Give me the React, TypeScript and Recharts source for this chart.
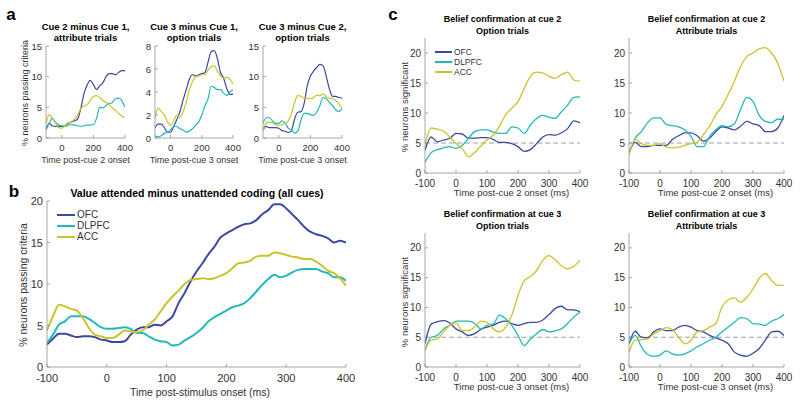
import React from 'react';
import { LineChart, Line, XAxis, YAxis, ReferenceLine } from 'recharts';

const FONT = '"Liberation Sans", Arial, Helvetica, sans-serif';
const C_OFC = '#3b4aa0';
const C_DL = '#22b9b8';
const C_ACC = '#c9c42c';
const AXIS = '#8f8f8f';
const TICKTXT = '#333333';

// time samples
const t20 = [-100, -80, -60, -40, -20, 0, 20, 40, 60, 80, 100, 120, 140, 160, 180, 200, 220, 240, 260, 280, 300, 320, 340, 360, 380, 400];
const t10 = [-100, -90, -80, -70, -60, -50, -40, -30, -20, -10, 0, 10, 20, 30, 40, 50, 60, 70, 80, 90, 100, 110, 120, 130, 140, 150, 160, 170, 180, 190, 200, 210, 220, 230, 240, 250, 260, 270, 280, 290, 300, 310, 320, 330, 340, 350, 360, 370, 380, 390, 400];

// panel a1: Cue 2 minus Cue 1, attribute trials
const a1Ofc = [1.4, 2.4, 2.0, 1.9, 1.9, 1.9, 2.0, 2.4, 2.6, 2.8, 3.1, 4.8, 7.2, 8.6, 9.4, 8.7, 7.9, 8.5, 9.0, 10.0, 10.5, 10.5, 10.3, 10.7, 11.0, 11.0];
const a1Dl = [1.3, 2.4, 3.2, 2.6, 2.1, 2.0, 1.9, 2.1, 2.2, 2.1, 2.0, 1.9, 2.0, 2.1, 2.1, 2.2, 3.2, 5.0, 4.9, 5.3, 5.6, 5.8, 6.4, 6.5, 6.1, 5.0];
const a1Acc = [2.4, 3.8, 3.2, 2.4, 1.7, 1.6, 2.0, 2.5, 2.6, 3.1, 3.7, 4.8, 5.2, 5.4, 6.1, 6.8, 6.9, 6.6, 6.1, 5.8, 5.4, 4.9, 4.5, 4.0, 3.6, 3.3];
// panel a2: Cue 3 minus Cue 1, option trials
const a2Ofc = [0.9, 1.2, 1.2, 0.9, 0.5, 0.5, 1.0, 1.6, 2.3, 3.3, 4.2, 5.1, 5.5, 5.4, 5.5, 5.6, 5.7, 6.6, 7.5, 7.6, 6.9, 5.7, 5.2, 4.3, 3.8, 3.8];
const a2Dl = [0.2, 0.1, 0.2, 0.4, 0.5, 0.7, 1.0, 1.0, 0.8, 0.7, 0.5, 0.6, 0.8, 1.1, 1.4, 2.0, 2.8, 3.4, 4.5, 4.4, 4.2, 4.2, 3.9, 3.7, 4.0, 4.2];
const a2Acc = [1.7, 2.6, 2.3, 2.0, 1.4, 1.1, 1.5, 2.0, 1.8, 2.3, 3.1, 4.2, 4.9, 5.3, 5.4, 5.5, 5.5, 5.9, 6.2, 6.3, 5.8, 5.4, 5.2, 5.3, 5.1, 4.7];
// panel a3: Cue 3 minus Cue 2, option trials
const a3Ofc = [1.3, 1.9, 1.7, 1.7, 1.7, 1.6, 1.2, 1.1, 0.9, 1.2, 3.1, 4.2, 4.3, 5.6, 8.5, 10.1, 10.9, 11.5, 12.0, 11.8, 10.1, 8.0, 6.8, 6.8, 6.6, 6.5];
const a3Dl = [2.4, 3.3, 3.3, 2.8, 2.4, 2.4, 2.8, 2.4, 1.6, 1.3, 0.8, 1.1, 2.9, 4.0, 4.0, 3.8, 3.7, 4.2, 5.3, 6.6, 6.4, 5.8, 5.3, 4.6, 4.3, 4.8];
const a3Acc = [1.3, 2.4, 2.6, 2.5, 2.1, 2.1, 2.2, 2.4, 2.8, 4.0, 5.8, 6.9, 6.8, 6.5, 6.5, 6.4, 6.6, 7.0, 6.9, 7.2, 6.7, 6.5, 6.4, 6.1, 5.6, 4.8];

// panel b: value attended minus unattended coding (all cues)
const bOfc = [2.7, 3.4, 4.0, 4.0, 3.8, 3.6, 3.7, 3.7, 3.6, 3.3, 3.2,
  3.0, 3.0, 3.1, 3.9, 4.5, 4.8, 4.8, 5.1, 5.0, 5.5,
  6.1, 7.7, 8.9, 10.3, 11.5, 12.5, 13.6, 14.5, 15.6, 16.1,
  16.5, 16.9, 17.2, 17.3, 17.7, 18.4, 18.9, 19.6, 19.6, 19.1,
  18.4, 17.7, 16.9, 16.3, 16.0, 15.8, 15.5, 15.0, 15.2, 15.0];
const bDl = [2.9, 3.9, 5.1, 5.5, 6.1, 6.1, 6.1, 5.8, 5.3, 4.8, 4.6,
  4.6, 4.7, 4.8, 4.6, 4.1, 4.1, 3.7, 3.3, 3.1, 3.0,
  2.6, 2.7, 3.2, 3.6, 4.1, 4.7, 5.5, 6.0, 6.4, 6.8,
  7.2, 7.4, 7.7, 8.3, 9.1, 9.9, 10.6, 11.1, 10.8, 11.0,
  11.4, 11.7, 11.8, 11.8, 11.8, 11.5, 11.3, 10.8, 10.8, 10.4];
const bAcc = [4.4, 6.1, 7.5, 7.3, 7.0, 6.8, 5.9, 4.7, 3.9, 3.7, 3.5,
  3.5, 3.9, 4.4, 4.3, 4.2, 4.4, 5.1, 5.7, 6.7, 7.7,
  8.5, 9.2, 10.0, 10.5, 10.6, 10.7, 10.6, 10.7, 11.0, 11.3,
  11.9, 12.5, 12.6, 12.8, 13.3, 13.4, 13.4, 13.8, 13.7, 13.5,
  13.3, 13.2, 13.0, 13.0, 12.7, 12.2, 11.6, 11.3, 10.7, 9.8];

// panel c1: belief confirmation at cue 2, option trials
const c1Ofc = [3.8, 6.0, 5.2, 5.5, 5.8, 6.6, 6.5, 5.8, 5.8, 5.9, 5.9, 5.6, 5.1, 5.1, 4.9, 4.4, 3.6, 3.9, 4.9, 6.0, 6.4, 6.3, 6.7, 7.4, 8.7, 8.4];
const c1Dl = [1.8, 3.4, 3.9, 4.2, 4.4, 4.1, 4.6, 5.8, 6.9, 7.2, 7.2, 6.8, 6.6, 6.6, 7.7, 7.5, 6.6, 8.0, 9.1, 9.6, 9.3, 9.1, 10.2, 11.3, 12.6, 12.7];
const c1Acc = [4.8, 7.5, 7.3, 7.0, 6.0, 4.9, 4.1, 2.7, 3.4, 4.5, 5.5, 6.3, 7.8, 9.7, 10.8, 11.9, 14.1, 16.1, 16.8, 16.7, 16.1, 15.8, 16.4, 16.8, 15.5, 15.3];
// panel c2: belief confirmation at cue 2, attribute trials
const c2Ofc = [3.4, 5.1, 4.4, 4.4, 4.6, 4.6, 4.6, 5.6, 6.2, 6.7, 6.7, 6.2, 5.3, 5.8, 6.9, 7.7, 7.5, 7.2, 7.8, 8.6, 8.2, 7.9, 6.9, 6.9, 7.5, 9.6];
const c2Dl = [3.2, 5.8, 6.9, 8.4, 9.2, 9.2, 8.1, 7.9, 7.7, 7.2, 6.1, 4.4, 4.4, 6.1, 7.2, 7.9, 7.7, 8.2, 10.6, 12.6, 11.9, 9.6, 8.6, 8.4, 9.0, 8.9];
const c2Acc = [3.1, 5.6, 4.9, 4.6, 4.6, 4.9, 4.3, 4.2, 4.3, 4.6, 4.9, 5.1, 6.4, 7.8, 9.7, 11.1, 13.1, 15.3, 17.8, 19.4, 20.0, 20.7, 20.9, 20.0, 18.3, 15.3];
// panel c3: belief confirmation at cue 3, option trials
const c3Ofc = [3.9, 7.2, 7.6, 7.8, 7.4, 6.4, 5.9, 5.3, 5.6, 6.3, 6.7, 7.0, 7.5, 7.7, 7.3, 7.0, 7.3, 7.5, 7.5, 7.9, 8.8, 9.8, 10.2, 9.6, 9.6, 9.3];
const c3Dl = [2.8, 5.0, 5.3, 6.4, 7.0, 7.7, 7.7, 7.7, 7.3, 6.4, 7.0, 7.2, 8.7, 8.1, 7.0, 5.3, 3.6, 4.7, 5.6, 6.3, 5.9, 6.1, 6.4, 7.3, 8.4, 9.2];
const c3Acc = [2.8, 4.5, 4.7, 5.9, 7.0, 7.4, 6.1, 6.1, 6.7, 7.7, 7.5, 6.4, 5.9, 6.7, 8.7, 12.0, 14.5, 15.2, 16.2, 17.9, 18.7, 18.0, 17.0, 16.5, 16.9, 17.9];
// panel c4: belief confirmation at cue 3, attribute trials
const c4Ofc = [3.9, 6.0, 5.0, 4.9, 5.9, 6.4, 6.1, 6.1, 6.7, 7.0, 6.7, 6.1, 5.9, 5.3, 4.9, 4.5, 3.9, 2.5, 2.0, 1.8, 2.3, 3.1, 4.5, 5.9, 6.0, 5.3];
const c4Dl = [3.9, 5.3, 3.4, 2.1, 1.8, 2.0, 2.7, 2.2, 2.0, 2.2, 2.7, 3.4, 3.9, 4.5, 5.0, 5.9, 6.7, 7.5, 8.3, 8.1, 7.3, 7.2, 7.0, 7.7, 8.1, 8.8];
const c4Acc = [2.5, 4.5, 4.6, 4.7, 5.6, 6.1, 6.6, 6.3, 5.0, 3.9, 4.5, 5.9, 6.1, 6.7, 7.3, 10.1, 11.3, 11.6, 10.9, 11.7, 13.1, 14.9, 15.7, 14.5, 13.7, 13.7];

const aXTicks = [0, 200, 400];
const bcXTicks = [-100, 0, 100, 200, 300, 400];
const y15Ticks = [0, 5, 10, 15];
const y8Ticks = [0, 2, 4, 6, 8];
const y20Ticks = [0, 5, 10, 15, 20];
const seriesNames = ['OFC', 'DLPFC', 'ACC'];

function build(times: number[], ofc: number[], dl: number[], acc: number[]) {
  return times.map((t, i) => ({ t, OFC: ofc[i], DLPFC: dl[i], ACC: acc[i] }));
}

type Rect = { x: number; y: number; w: number; h: number };

function Plot(props: {
  rect: Rect; data: any[]; yDomain: [number, number]; yTicks: number[]; xTicks: number[];
  fs: number; sw: number; xOff: number; ref?: boolean;
}) {
  const { rect, data, yDomain, yTicks, xTicks, fs, sw, xOff, ref } = props;
  const YW = 30, MT = 8, MR = 14, XH = 24;
  const W = YW + rect.w + MR;
  const H = MT + rect.h + XH;
  const axisY = MT + rect.h;
  const axisX = YW;
  const xTick = (p: any) => (
    <g>
      <line x1={p.x} x2={p.x} y1={axisY} y2={axisY - 3} stroke={AXIS} strokeWidth={0.8} />
      <text x={p.x} y={axisY + xOff} textAnchor="middle" dominantBaseline="central" fontSize={fs} fontFamily={FONT} fill={TICKTXT}>{p.payload.value}</text>
    </g>
  );
  const yTick = (p: any) => (
    <g>
      <line x1={axisX} x2={axisX + 3} y1={p.y} y2={p.y} stroke={AXIS} strokeWidth={0.8} />
      <text x={axisX - 4} y={p.y} textAnchor="end" dominantBaseline="central" fontSize={fs} fontFamily={FONT} fill={TICKTXT}>{p.payload.value}</text>
    </g>
  );
  return (
    <div style={{ position: 'absolute', left: rect.x - YW, top: rect.y - MT }}>
      <LineChart width={W} height={H} data={data} margin={{ top: MT, right: MR, bottom: 0, left: 0 }}>
        <XAxis dataKey="t" type="number" domain={[-100, 400]} ticks={xTicks} tick={xTick} tickLine={false}
          axisLine={{ stroke: AXIS, strokeWidth: 0.8 }} height={XH} interval={0} allowDataOverflow />
        <YAxis type="number" domain={yDomain} ticks={yTicks} tick={yTick} tickLine={false}
          axisLine={{ stroke: AXIS, strokeWidth: 0.8 }} width={YW} interval={0} allowDataOverflow />
        {ref ? <ReferenceLine y={5} stroke="#a0a0a0" strokeWidth={1} strokeDasharray="5 3" /> : null}
        <Line dataKey="OFC" stroke={C_OFC} strokeWidth={sw} dot={false} type="monotone" isAnimationActive={false} />
        <Line dataKey="DLPFC" stroke={C_DL} strokeWidth={sw} dot={false} type="monotone" isAnimationActive={false} />
        <Line dataKey="ACC" stroke={C_ACC} strokeWidth={sw} dot={false} type="monotone" isAnimationActive={false} />
      </LineChart>
    </div>
  );
}

function T(props: { x: number; y: number; s: number; bold?: boolean; rot?: boolean; start?: boolean; color?: string; children: any }) {
  const { x, y, s, bold, rot, start, color, children } = props;
  return (
    <div style={{
      position: 'absolute', left: x, top: y,
      transform: `translate(${start ? '0' : '-50%'},-50%)${rot ? ' rotate(-90deg)' : ''}`,
      fontFamily: FONT, fontSize: s, fontWeight: bold ? 700 : 400, color: color || '#222',
      whiteSpace: 'nowrap', lineHeight: 1,
    }}>{children}</div>
  );
}

function Legend(props: { x: number; y: number; len: number; gap: number; fs: number; sw: number }) {
  const { x, y, len, gap, fs, sw } = props;
  const cols = [C_OFC, C_DL, C_ACC];
  return (
    <>
      {seriesNames.map((n, i) => (
        <React.Fragment key={n}>
          <div style={{ position: 'absolute', left: x, top: y + i * gap - sw / 2, width: len, height: sw, background: cols[i] }} />
          <T x={x + len + 2} y={y + i * gap} s={fs} start color="#333">{n}</T>
        </React.Fragment>
      ))}
    </>
  );
}

const A1: Rect = { x: 46, y: 46, w: 79, h: 92 };
const A2: Rect = { x: 155, y: 46, w: 78, h: 92 };
const A3: Rect = { x: 263, y: 46, w: 79, h: 92 };
const B: Rect = { x: 47, y: 201, w: 299, h: 166 };
const C1: Rect = { x: 425, y: 38, w: 155, h: 135 };
const C2: Rect = { x: 629, y: 38, w: 155, h: 135 };
const C3: Rect = { x: 425, y: 233, w: 155, h: 134 };
const C4: Rect = { x: 629, y: 233, w: 155, h: 134 };

export default function App() {
  const cx = (r: Rect) => r.x + r.w / 2;
  return (
    <div style={{ position: 'absolute', left: 0, top: 0, width: 800, height: 407, background: '#fff', overflow: 'hidden' }}>
      {/* panel a */}
      <T x={11} y={14} s={17} bold color="#000">a</T>
      <Plot rect={A1} data={build(t20, a1Ofc, a1Dl, a1Acc)} yDomain={[0, 15]} yTicks={y15Ticks} xTicks={aXTicks} fs={9.5} sw={1.2} xOff={9} />
      <Plot rect={A2} data={build(t20, a2Ofc, a2Dl, a2Acc)} yDomain={[0, 8]} yTicks={y8Ticks} xTicks={aXTicks} fs={9.5} sw={1.2} xOff={9} />
      <Plot rect={A3} data={build(t20, a3Ofc, a3Dl, a3Acc)} yDomain={[0, 15]} yTicks={y15Ticks} xTicks={aXTicks} fs={9.5} sw={1.2} xOff={9} />
      <T x={cx(A1)} y={27} s={9.5} bold color="#000">Cue 2 minus Cue 1,</T>
      <T x={cx(A1)} y={38} s={9.5} bold color="#000">attribute trials</T>
      <T x={cx(A2)} y={27} s={9.5} bold color="#000">Cue 3 minus Cue 1,</T>
      <T x={cx(A2)} y={38} s={9.5} bold color="#000">option trials</T>
      <T x={cx(A3)} y={27} s={9.5} bold color="#000">Cue 3 minus Cue 2,</T>
      <T x={cx(A3)} y={38} s={9.5} bold color="#000">option trials</T>
      <T x={cx(A1)} y={160} s={9} color="#333">Time post-cue 2 onset</T>
      <T x={cx(A2)} y={160} s={9} color="#333">Time post-cue 3 onset</T>
      <T x={cx(A3)} y={160} s={9} color="#333">Time post-cue 3 onset</T>
      <T x={25} y={93} s={9} rot color="#333">% neurons passing criteria</T>

      {/* panel b */}
      <T x={14} y={191} s={17} bold color="#000">b</T>
      <Plot rect={B} data={build(t10, bOfc, bDl, bAcc)} yDomain={[0, 20]} yTicks={y20Ticks} xTicks={bcXTicks} fs={11} sw={2} xOff={11} />
      <T x={197} y={193} s={10.5} bold color="#000">Value attended minus unattended coding (all cues)</T>
      <T x={200} y={392} s={10.5} color="#333">Time post-stimulus onset (ms)</T>
      <T x={23} y={285} s={10.5} rot color="#333">% neurons passing criteria</T>
      <Legend x={57} y={215} len={18} gap={11} fs={10} sw={2} />

      {/* panel c */}
      <T x={393} y={14} s={17} bold color="#000">c</T>
      <Plot rect={C1} data={build(t20, c1Ofc, c1Dl, c1Acc)} yDomain={[0, 22.5]} yTicks={y20Ticks} xTicks={bcXTicks} fs={10} sw={1.3} xOff={10} ref />
      <Plot rect={C2} data={build(t20, c2Ofc, c2Dl, c2Acc)} yDomain={[0, 22.5]} yTicks={y20Ticks} xTicks={bcXTicks} fs={10} sw={1.3} xOff={10} ref />
      <Plot rect={C3} data={build(t20, c3Ofc, c3Dl, c3Acc)} yDomain={[0, 22.5]} yTicks={y20Ticks} xTicks={bcXTicks} fs={10} sw={1.3} xOff={10} ref />
      <Plot rect={C4} data={build(t20, c4Ofc, c4Dl, c4Acc)} yDomain={[0, 22.5]} yTicks={y20Ticks} xTicks={bcXTicks} fs={10} sw={1.3} xOff={10} ref />
      <T x={cx(C1)} y={19} s={9} bold color="#000">Belief confirmation at cue 2</T>
      <T x={cx(C1)} y={31} s={9} bold color="#000">Option trials</T>
      <T x={cx(C2)} y={19} s={9} bold color="#000">Belief confirmation at cue 2</T>
      <T x={cx(C2)} y={31} s={9} bold color="#000">Attribute trials</T>
      <T x={cx(C3)} y={214} s={9} bold color="#000">Belief confirmation at cue 3</T>
      <T x={cx(C3)} y={226} s={9} bold color="#000">Option trials</T>
      <T x={cx(C4)} y={214} s={9} bold color="#000">Belief confirmation at cue 3</T>
      <T x={cx(C4)} y={226} s={9} bold color="#000">Attribute trials</T>
      <T x={cx(C1) + 9} y={193} s={9.5} color="#333">Time post-cue 2 onset (ms)</T>
      <T x={cx(C2) + 9} y={193} s={9.5} color="#333">Time post-cue 2 onset (ms)</T>
      <T x={cx(C3) + 9} y={387} s={9.5} color="#333">Time post-cue 3 onset (ms)</T>
      <T x={cx(C4) + 9} y={387} s={9.5} color="#333">Time post-cue 3 onset (ms)</T>
      <T x={405} y={107} s={9.5} rot color="#333">% neurons significant</T>
      <T x={405} y={302} s={9.5} rot color="#333">% neurons significant</T>
      <Legend x={435} y={52} len={17} gap={10} fs={8.5} sw={1.5} />
    </div>
  );
}
